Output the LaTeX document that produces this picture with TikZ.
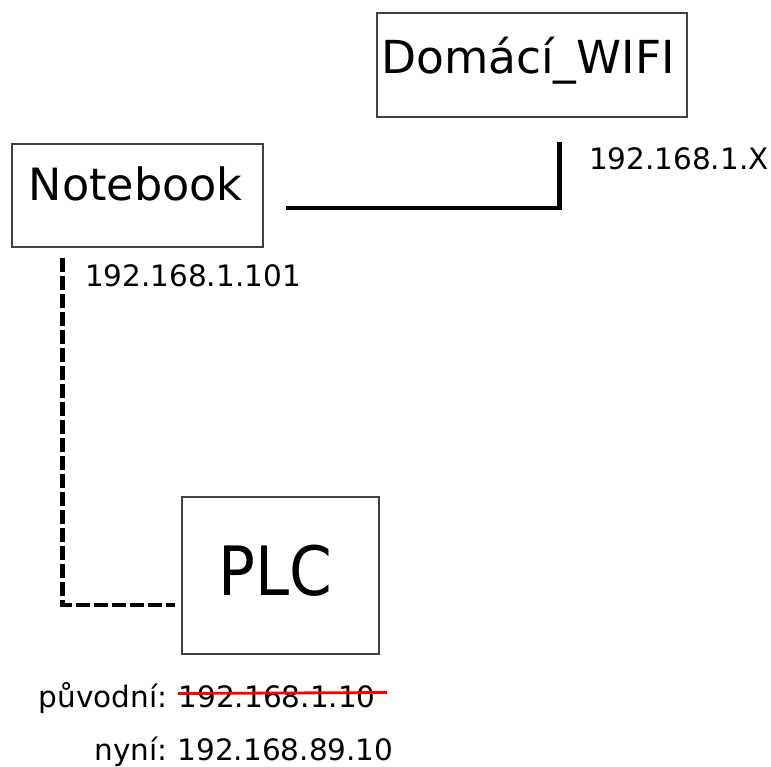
\documentclass[tikz,border=0pt]{standalone}
\usepackage{fontspec}
\setmainfont{DejaVu Sans}
\newfontfamily\plcfont[FakeStretch=0.9]{DejaVu Sans}
\begin{document}
\begin{tikzpicture}[x=1pt,y=-1pt,
  box/.style={draw=black!75, line width=1.2pt, inner sep=0pt},
  bigtext/.style={font=\fontsize{45.5}{54}\selectfont, inner sep=0pt},
  hugetext/.style={font=\plcfont\fontsize{68}{80}\selectfont, inner sep=0pt},
  iptext/.style={font=\fontsize{29.5}{35}\selectfont, inner sep=0pt},
  wire/.style={line width=4.6pt, line join=miter},
  dashwire/.style={line width=4.6pt, line join=miter, dash pattern=on 14pt off 4pt}]
\useasboundingbox (0,0) rectangle (771,767);

% boxes
\node[box, minimum width=310pt, minimum height=104pt] (wifi) at (532,65) {};
\node[box, minimum width=251pt, minimum height=103pt] (notebook) at (137.5,195.5) {};
\node[box, minimum width=197pt, minimum height=157pt] (plc) at (280.5,575.5) {};

% box texts
\node[bigtext, anchor=base west] (wifitext) at (381,74) {Domácí\_WIFI};
\node[bigtext, anchor=base west, font=\fontsize{44.5}{54}\selectfont] (notebooktext) at (28.6,201) {Notebook};
\node[hugetext, anchor=base west] (plctext) at (218.5,595) {PLC};

% ip labels
\node[iptext, anchor=base west] (wifiip) at (588.8,170) {192.168.1.X};
\node[iptext, anchor=base west] (nbip) at (84.8,287) {192.168.1.101};
\node[iptext, anchor=base east] (oldlabel) at (167.5,707) {původní:};
\node[iptext, anchor=base west] (oldip) at (178.5,707) {192.168.1.10};
\node[iptext, anchor=base east] (newlabel) at (167.5,760) {nyní:};
\node[iptext, anchor=base west] (newip) at (177.5,760) {192.168.89.10};

% connectors
\coordinate (wA) at (286,208);
\coordinate (wB) at (559.5,208);
\coordinate (wC) at (559.5,142);
\draw[wire] (wA) -- (wB) -- (wC);

\coordinate (dA) at (62.5,258);
\coordinate (dB) at (62.5,605);
\coordinate (dC) at (175,605);
\draw[dashwire] (dA) -- (dB) -- (dC);

% strike-through
\coordinate (sA) at (178,693.5);
\coordinate (sB) at (387,692.5);
\draw[red, line width=2.8pt] (sA) -- (sB);
\end{tikzpicture}
\end{document}
